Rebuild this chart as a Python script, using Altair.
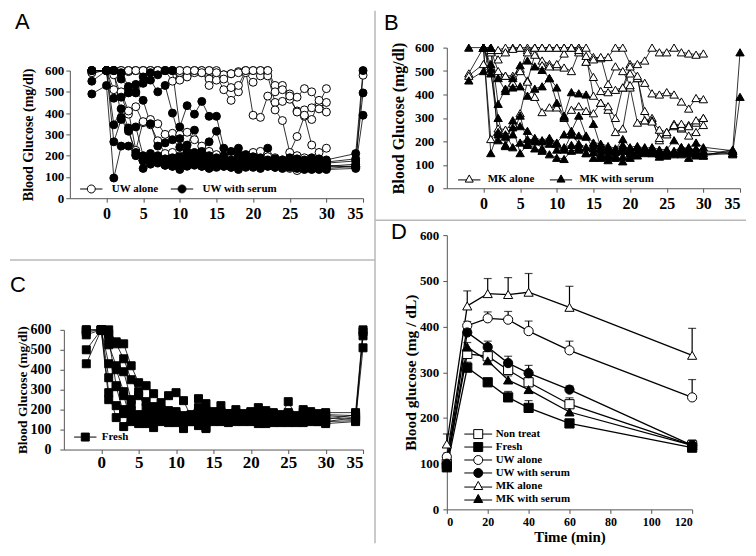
import altair as alt
import pandas as pd

SERIF = "Liberation Serif"
SANS = "Liberation Sans"

# ---------------- shared day lists ----------------
DAYS_M2 = [-2] + list(range(0, 31))
DAYS_0 = list(range(0, 31))
T34 = [34]
T35 = [34, 35]
X_TICKS = [0, 5, 10, 15, 20, 25, 30, 35]
Y_TICKS = [0, 100, 200, 300, 400, 500, 600]

# ---------------- Panel A : UW ----------------
A_GROUPS = ["UW alone", "UW with serum"]
A_UW_ALONE = [
    (DAYS_M2, [590,
               600, 600, 600, 600, 600, 600, 600, 600, 600, 600,
               600, 600, 600, 600, 600, 600, 580, 585, 595, 600,
               600, 600, 600, 530, 530, 490, 475, 515, 500, 445,
               515]),
    (DAYS_M2, [600,
               600, 600, 590, 595, 600, 600, 600, 600, 600, 550,
               590, 575, 590, 590, 560, 575, 510, 460, 500, 590,
               545, 575, 575, 450, 455, 465, 410, 415, 425, 420,
               450]),
    (DAYS_M2, [600,
               600, 600, 600, 600, 600, 600, 600, 600, 600, 600,
               555, 570, 600, 600, 530, 555, 580, 520, 530, 600,
               390, 380, 480, 415, 365, 215, 290, 385, 250, 215,
               235]),
    (DAYS_0, [600, 600, 600, 600, 600, 600, 600, 600, 600, 600,
              600, 600, 600, 590, 600, 590, 560, 585, 590, 600,
              600, 600, 600, 500, 510, 480, 405, 390, 370, 460,
              405]),
    (DAYS_M2, [590,
               600, 580, 480, 395, 430, 355, 370, 350, 300, 305,
               300, 310, 275, 245, 220, 205, 195, 190, 195, 200,
               215, 200, 195, 190, 180, 185, 200, 190, 185, 180,
               175]),
    (DAYS_M2 + T35, [600,
                     600, 510, 500, 410, 225, 360, 345, 270, 210, 215,
                     200, 215, 185, 180, 165, 160, 160, 145, 170, 150,
                     175, 220, 165, 160, 150, 140, 130, 150, 140, 145,
                     150, 150, 578]),
]
A_UW_SERUM = [
    (DAYS_M2 + T35, [600,
                     600, 600, 560, 520, 535, 570, 590, 580, 600, 600,
                     335, 435, 395, 455, 385, 385, 235, 220, 235, 205,
                     195, 190, 235, 185, 180, 190, 185, 180, 190, 185,
                     180, 210, 600]),
    (DAYS_M2 + T35, [550,
                     600, 470, 475, 495, 495, 540, 555, 500, 530, 400,
                     280, 250, 320, 220, 265, 315, 200, 175, 205, 190,
                     185, 175, 180, 170, 175, 170, 175, 165, 170, 165,
                     170, 185, 495]),
    (DAYS_M2 + T35, [490,
                     530, 95, 245, 245, 200, 140, 170, 195, 155, 150,
                     135, 155, 165, 150, 140, 155, 150, 155, 135, 150,
                     145, 140, 150, 145, 140, 150, 145, 135, 140, 135,
                     140, 150, 390]),
    (DAYS_M2 + T34, [600,
                     600, 345, 420, 330, 335, 200, 210, 200, 185, 190,
                     195, 210, 215, 205, 200, 190, 185, 180, 190, 185,
                     180, 185, 175, 170, 165, 175, 170, 175, 165, 160,
                     165, 175]),
    (DAYS_0 + T34, [600, 265, 370, 315, 215, 185, 190, 175, 160, 165,
                    170, 185, 180, 175, 160, 170, 175, 170, 160, 165,
                    160, 155, 160, 155, 160, 155, 150, 155, 150, 155,
                    150, 160]),
    (DAYS_0 + T34, [600, 600, 590, 525, 500, 460, 350, 245, 260, 275,
                    240, 220, 205, 190, 180, 175, 165, 160, 170, 175,
                    170, 165, 170, 165, 170, 160, 165, 160, 155, 150,
                    155, 145]),
    (DAYS_0 + T34, [600, 600, 380, 325, 205, 175, 160, 165, 155, 150,
                    160, 150, 155, 150, 145, 145, 150, 145, 150, 145,
                    150, 145, 150, 145, 150, 145, 140, 140, 135, 140,
                    135, 140]),
]

# ---------------- Panel B : MK ----------------
B_GROUPS = ["MK alone", "MK with serum"]
B_MK_ALONE = [
    (DAYS_M2, [490,
               600, 580, 590, 600, 600, 600, 600, 600, 600, 600,
               600, 600, 600, 600, 600, 560, 555, 560, 600, 600,
               530, 530, 545, 600, 580, 580, 600, 580, 575, 570,
               575]),
    (DAYS_M2, [480,
               530, 520, 490, 480, 480, 510, 460, 390, 325, 345,
               345, 300, 335, 350, 330, 320, 365, 335, 240, 255,
               430, 280, 290, 300, 205, 240, 265, 255, 270, 280,
               300]),
    (DAYS_0, [600, 210, 255, 250, 275, 320, 455, 570, 545, 530,
              520, 515, 500, 580, 540, 550, 560, 445, 520, 500,
              440, 470, 330, 290, 215, 230, 275, 260, 225, 240,
              270]),
    (DAYS_0, [600, 590, 500, 480, 450, 500, 590, 600, 525, 520,
              530, 575, 600, 600, 540, 475, 415, 410, 420, 430,
              490, 470, 450, 405, 400, 410, 400, 370, 340, 385,
              380]),
    (DAYS_0, [600, 600, 550, 580, 595, 600, 580, 600, 600, 600,
              600, 600, 600, 590, 565, 395, 365, 350, 300, 430,
              520, 480, 290, 285, 250, 240, 270, 275, 265, 290,
              300]),
]
B_MK_SERUM = [
    (DAYS_M2 + T35, [600,
                     600, 530, 470, 415, 470, 525, 545, 520, 505, 470,
                     430, 310, 410, 405, 400, 275, 175, 170, 165, 210,
                     175, 180, 170, 175, 165, 165, 205, 175, 170, 195,
                     175, 160, 580]),
    (DAYS_M2 + T35, [460,
                     500, 600, 360, 425, 430, 435, 395, 425, 435, 470,
                     365, 305, 245, 310, 225, 195, 190, 180, 170, 185,
                     165, 175, 160, 165, 160, 150, 160, 175, 160, 170,
                     160, 150, 390]),
    (DAYS_0 + T34, [600, 150, 240, 230, 175, 195, 210, 205, 200, 205,
                    190, 165, 230, 225, 220, 170, 165, 160, 155, 160,
                    150, 155, 155, 150, 150, 145, 150, 160, 150, 145,
                    150, 145]),
    (DAYS_0 + T34, [600, 490, 300, 180, 290, 265, 245, 215, 205, 215,
                    195, 230, 230, 190, 175, 155, 140, 135, 130, 115,
                    130, 140, 150, 155, 145, 140, 150, 155, 130, 140,
                    140, 160]),
    (DAYS_0 + T34, [600, 600, 205, 185, 230, 310, 190, 170, 160, 145,
                    130, 125, 160, 165, 150, 130, 130, 120, 140, 175,
                    140, 160, 165, 160, 155, 160, 145, 165, 170, 150,
                    140, 165]),
    (DAYS_0 + T34, [600, 510, 230, 220, 260, 150, 185, 200, 170, 190,
                    165, 175, 185, 175, 150, 185, 150, 145, 160, 135,
                    160, 150, 175, 150, 135, 140, 155, 145, 175, 160,
                    140, 150]),
]

# ---------------- Panel C : Fresh ----------------
C_GROUPS = ["Fresh"]
C_FRESH = [
    (DAYS_M2 + T35, [600,
                     600, 600, 540, 530, 420, 335, 320, 280, 235, 270,
                     285, 245, 165, 255, 230, 190, 220, 180, 200, 175,
                     190, 210, 195, 180, 165, 240, 170, 200, 190, 180,
                     185, 185, 600]),
    (DAYS_M2 + T35, [590,
                     600, 580, 530, 455, 350, 290, 240, 215, 200, 195,
                     190, 150, 175, 200, 195, 175, 180, 170, 175, 165,
                     175, 170, 180, 165, 160, 175, 165, 170, 175, 165,
                     170, 160, 590]),
    (DAYS_M2 + T35, [575,
                     600, 525, 420, 390, 250, 270, 210, 170, 175, 160,
                     170, 165, 160, 210, 110, 150, 165, 160, 150, 160,
                     155, 180, 165, 160, 155, 165, 150, 160, 165, 150,
                     160, 150, 570]),
    (DAYS_M2 + T35, [500,
                     600, 430, 400, 290, 195, 165, 155, 145, 160, 150,
                     155, 105, 155, 145, 150, 160, 150, 155, 145, 150,
                     145, 150, 150, 145, 150, 145, 150, 145, 150, 145,
                     140, 145, 510]),
    (DAYS_M2 + T34, [430,
                     600, 360, 315, 180, 225, 150, 140, 110, 150, 140,
                     145, 135, 150, 120, 105, 140, 140, 135, 140, 140,
                     140, 130, 130, 135, 140, 135, 140, 135, 140, 140,
                     130, 140]),
    (DAYS_0 + T34, [600, 285, 160, 115, 180, 130, 130, 150, 140, 135,
                    135, 145, 140, 140, 135, 145, 150, 140, 150, 150,
                    150, 140, 135, 140, 135, 140, 135, 140, 145, 140,
                    140, 160]),
    (DAYS_0 + T34, [600, 250, 220, 200, 165, 175, 170, 190, 185, 175,
                    160, 170, 170, 175, 170, 180, 190, 180, 185, 180,
                    185, 190, 170, 185, 175, 185, 160, 185, 180, 175,
                    175, 170]),
    (DAYS_M2 + T34, [600,
                     600, 560, 320, 270, 140, 140, 160, 160, 170, 165,
                     180, 160, 140, 160, 180, 165, 160, 165, 160, 170,
                     160, 160, 155, 160, 165, 155, 160, 155, 160, 160,
                     150, 175]),
]

# ---------------- Panel D : glucose tolerance ----------------
D_TIME = [0, 10, 20, 30, 40, 60, 120]
D_TICKS = [0, 20, 40, 60, 80, 100, 120]
D_GROUPS = ["Non treat", "Fresh", "UW alone", "UW with serum", "MK alone", "MK with serum"]
D_MEAN = {
    "Non treat":     [100, 340, 335, 305, 278, 230, 140],
    "Fresh":         [92, 310, 278, 245, 222, 188, 135],
    "UW alone":      [115, 402, 418, 415, 390, 348, 245],
    "UW with serum": [100, 387, 355, 320, 298, 262, 140],
    "MK alone":      [143, 445, 472, 470, 475, 442, 337],
    "MK with serum": [98, 355, 325, 283, 262, 213, 140],
}
D_ERR = {
    "Non treat":     [10, 8, 8, 10, 10, 14, 10],
    "Fresh":         [8, 12, 6, 13, 16, 9, 6],
    "UW alone":      [8, 9, 14, 18, 22, 20, 39],
    "UW with serum": [8, 8, 13, 15, 17, 8, 12],
    "MK alone":      [22, 33, 33, 37, 41, 46, 59],
    "MK with serum": [10, 10, 8, 9, 8, 9, 10],
}
D_SHAPES = ["square", "square", "circle", "circle", "triangle-up", "triangle-up"]
D_FILLS = ["white", "black", "white", "black", "white", "black"]


# ---------------- legend glyphs (line + marker) ----------------
def circle_path(L):
    return f"M{-L},0L-1,0M1,0L{L},0M-1,0A1,1,0,1,1,1,0A1,1,0,1,1,-1,0Z"


def square_path(L):
    return f"M{-L},0L-1,0M1,0L{L},0M-1,-1L1,-1L1,1L-1,1Z"


def triangle_path(L):
    return f"M{-L},0.25L-0.6,0.25M0.6,0.25L{L},0.25M0,-1L1,0.8L-1,0.8Z"


def legend_layer(groups, fills, paths, **kw):
    leg = alt.Legend(title=None, orient="none", padding=0,
                     symbolStrokeColor="black", symbolStrokeWidth=1,
                     labelFont=SERIF, labelFontWeight="bold", labelFontSize=11,
                     labelColor="black", **kw)
    return (alt.Chart(pd.DataFrame({"entry": groups}))
            .transform_filter("false")
            .mark_point(filled=True, strokeWidth=1, opacity=1)
            .encode(shape=alt.Shape("entry:N", scale=alt.Scale(domain=groups, range=paths), legend=leg),
                    fill=alt.Fill("entry:N", scale=alt.Scale(domain=groups, range=fills), legend=leg),
                    stroke=alt.Stroke("entry:N", scale=alt.Scale(domain=groups, range=["black"] * len(groups)),
                                      legend=leg)))


def label_layer(text, x, y):
    return (alt.Chart(pd.DataFrame({"label": [text]}))
            .mark_text(font=SANS, fontSize=22, align="left", baseline="alphabetic", color="black")
            .encode(text="label:N", x=alt.value(x), y=alt.value(y)))


def spaghetti(series_groups, groups, fills, shape, point_size, leg_path, leg_kw,
              width, height, x_range, y_range, xaxis, yaxis, label, extra=()):
    rows = []
    for g, series in zip(groups, series_groups):
        for i, (days, vals) in enumerate(series):
            assert len(days) == len(vals), (g, i, len(days), len(vals))
            for d, v in zip(days, vals):
                rows.append({"series": f"{g}-{i}", "group": g, "day": d, "glucose": v})
    df = pd.DataFrame(rows)
    X = alt.X("day:Q", scale=alt.Scale(domain=[-5, 35], range=x_range, nice=False, zero=False), axis=xaxis)
    Y = alt.Y("glucose:Q", scale=alt.Scale(domain=[0, 600], range=y_range, nice=False, zero=False), axis=yaxis)
    base = alt.Chart(df)
    layers = [base.mark_line(color="black", strokeWidth=0.8).encode(x=X, y=Y, detail="series:N", order="day:Q")]
    for g, f in zip(groups, fills):
        layers.append(base.transform_filter(alt.datum.group == g)
                      .mark_point(shape=shape, filled=True, fill=f, stroke="black", strokeWidth=1,
                                  size=point_size, opacity=1)
                      .encode(x=X, y=Y))
    layers.append(legend_layer(groups, fills, [leg_path] * len(groups), **leg_kw))
    layers.append(label)
    layers.extend(extra)
    return alt.layer(*layers).properties(width=width, height=height)


AX = dict(labelFont=SERIF, labelFontWeight="bold", labelColor="black",
          titleFont=SERIF, titleFontWeight="bold", titleColor="black",
          domainColor="#555555", tickColor="#555555", grid=False)


def x_axis(size, pad):
    return alt.Axis(values=X_TICKS, title=None, labelFontSize=size, tickSize=4, labelPadding=pad, **AX)


def y_axis(title, lsize, tsize, lpad, tpad, offset=0):
    return alt.Axis(values=Y_TICKS, title=title, labelFontSize=lsize, titleFontSize=tsize,
                    tickSize=4, labelPadding=lpad, titlePadding=tpad, offset=offset, **AX)


# dividers (panel frame lines), drawn from panel A's view
one = pd.DataFrame({"k": [0]})
DIV = dict(color="#b8b8b8", strokeWidth=1.5)
dividers = [
    alt.Chart(one).mark_rule(**DIV).encode(x=alt.value(312), y=alt.value(-37), y2=alt.value(497)),
    alt.Chart(one).mark_rule(**DIV).encode(x=alt.value(-54), x2=alt.value(312), y=alt.value(213)),
    alt.Chart(one).mark_rule(**DIV).encode(x=alt.value(312), x2=alt.value(684), y=alt.value(173)),
]

panel_a = spaghetti(
    [A_UW_ALONE, A_UW_SERUM], A_GROUPS, ["white", "black"], "circle", 64, circle_path(2.8),
    dict(direction="horizontal", legendX=22, legendY=136, symbolSize=64, labelOffset=15, columnPadding=10),
    300, 151, [6, 300], [151, 23],
    x_axis(16, 3), y_axis("Blood Glucose (mg/dl)", 13, 14, 2, 9, offset=-6),
    label_layer("A", -49, -19), dividers)

panel_b = spaghetti(
    [B_MK_ALONE, B_MK_SERUM], B_GROUPS, ["white", "black"], "triangle-up", 70, triangle_path(2.8),
    dict(direction="horizontal", legendX=17, legendY=126, symbolSize=64, labelOffset=13, columnPadding=13),
    294, 141, [0, 294], [141, 0],
    x_axis(16, 3), y_axis("Blood Glucose (mg/dl)", 13, 16, 9, 8),
    label_layer("B", -63, -18))

panel_c = spaghetti(
    [C_FRESH], C_GROUPS, ["black"], "square", 64, square_path(2.8),
    dict(direction="horizontal", legendX=16, legendY=197, symbolSize=64, labelOffset=11),
    300, 215, [0, 300], [215, 95],
    x_axis(17, 1), y_axis("Blood Glucose (mg/dl)", 14, 13.5, 9, 0),
    label_layer("C", -54, 57))

# ---- panel D ----
d_rows = []
for g in D_GROUPS:
    for t, m, e in zip(D_TIME, D_MEAN[g], D_ERR[g]):
        d_rows.append({"group": g, "time": t, "mean": m, "upper": m + e})
d_df = pd.DataFrame(d_rows)
DX = alt.X("time:Q", scale=alt.Scale(domain=[0, 120], nice=False, zero=False),
           axis=alt.Axis(values=D_TICKS, title="Time (min)", labelFontSize=12, titleFontSize=15,
                         tickSize=4, labelPadding=3, titlePadding=2, **AX))
DY = alt.Y("mean:Q", scale=alt.Scale(domain=[0, 600], nice=False, zero=False),
           axis=alt.Axis(values=Y_TICKS, title="Blood glucose (mg / dL)", labelFontSize=13,
                         titleFontSize=15.5, tickSize=4, labelPadding=4, titlePadding=1, **AX))
d_base = alt.Chart(d_df)
d_layers = [
    d_base.mark_line(color="black", strokeWidth=1.3).encode(x=DX, y=DY, detail="group:N"),
    d_base.mark_rule(color="black", strokeWidth=1.2).encode(x=DX, y=DY, y2="upper:Q"),
    d_base.mark_tick(color="black", orient="horizontal", size=8, thickness=1.2)
          .encode(x=DX, y=alt.Y("upper:Q", scale=alt.Scale(domain=[0, 600], nice=False, zero=False))),
]
for g, s, f in zip(D_GROUPS, D_SHAPES, D_FILLS):
    d_layers.append(d_base.transform_filter(alt.datum.group == g)
                    .mark_point(shape=s, filled=True, fill=f, stroke="black", strokeWidth=1, size=85, opacity=1)
                    .encode(x=DX, y=DY))
d_paths = [square_path(3.1), square_path(3.1), circle_path(3.1), circle_path(3.1),
           triangle_path(3.1), triangle_path(3.1)]
d_layers.append(legend_layer(D_GROUPS, D_FILLS, d_paths, direction="vertical", legendX=26, legendY=194,
                             symbolSize=81, labelOffset=12, rowPadding=0))
d_layers.append(label_layer("D", -56, 4))
panel_d = alt.layer(*d_layers).properties(width=246, height=275)

chart = (alt.concat(panel_a, panel_b, panel_c, panel_d, columns=2,
                    spacing={"row": 37, "column": 84}, bounds="flush", align="each")
         .resolve_scale(shape="independent", fill="independent", stroke="independent")
         .resolve_legend(shape="independent", fill="independent", stroke="independent")
         .properties(padding=0)
         .configure_view(stroke="transparent")
         .configure_axis(grid=False, labelFont=SERIF, labelFontWeight="bold", labelColor="black",
                         titleFont=SERIF, titleFontWeight="bold", titleColor="black",
                         domainColor="#555555", tickColor="#555555"))

chart.save("out.html", embed_options={"renderer": "svg", "actions": False})
